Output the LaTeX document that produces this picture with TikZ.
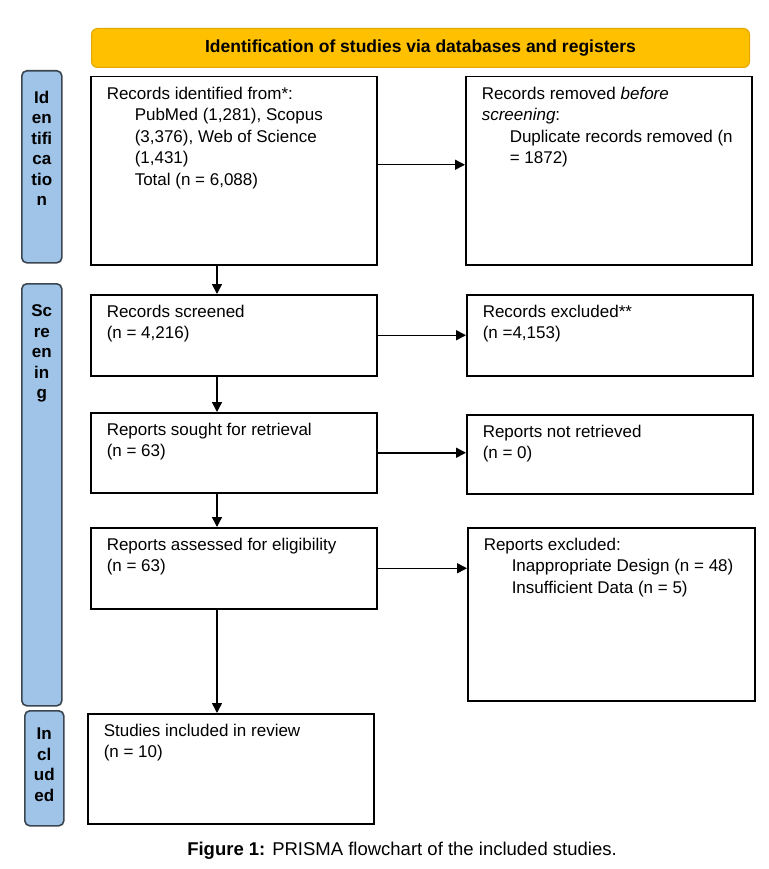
\documentclass[tikz,border=0pt]{standalone}
\usepackage{fontspec}
\setmainfont{Liberation Sans}
\usetikzlibrary{arrows.meta}

\definecolor{stageblue}{HTML}{9FC4E8}
\definecolor{stageedge}{HTML}{3B4650}
\definecolor{headfill}{HTML}{FFC000}
\definecolor{headedge}{HTML}{E3A700}

\newcommand{\boxbody}[3]{\parbox[c][#2][t]{#1}{\raggedright #3}}
\newcommand{\stagebody}[4]{\parbox[c][#2][t]{#1}{\centering\vspace*{#3}#4}}
\newcommand{\ind}{\hspace*{28pt}}

\begin{document}
\begin{tikzpicture}[x=1pt, y=-1pt,
  flowbox/.style={draw, line width=1.5pt, anchor=north west, inner xsep=16pt,
    inner ysep=10pt, font=\fontsize{17pt}{21.5pt}\selectfont},
  stagebox/.style={draw=stageedge, fill=stageblue, line width=1.6pt,
    rounded corners=5pt, anchor=north west, inner sep=0pt,
    font=\bfseries\fontsize{17pt}{20.5pt}\selectfont},
  flowarrow/.style={line width=1.5pt, -{Triangle[length=10pt,width=10pt]}}]
  \path[use as bounding box, fill=white] (0,0) rectangle (768,869);
  % ---- header bar ----
  \node[anchor=north west, draw=headedge, fill=headfill, line width=1pt,
    rounded corners=6pt, minimum width=658pt, minimum height=39pt, inner sep=0pt,
    font=\bfseries\fontsize{17.5pt}{21pt}\selectfont] (header) at (91,28)
    {Identification of studies via databases and registers};
  % ---- stage labels on the left ----
  \node[stagebox] (stageid) at (21,70)
    {\stagebody{40pt}{192pt}{20pt}{Id\\en\\tifi\\ca\\tio\\n}};
  \node[stagebox] (stagescr) at (21,283)
    {\stagebody{40pt}{422pt}{21pt}{Sc\\re\\en\\in\\g}};
  \node[stagebox] (stageinc) at (24,710)
    {\stagebody{39pt}{115pt}{17pt}{In\\cl\\ud\\ed}};
  % ---- main column ----
  \node[flowbox] (ident) at (90,76)
    {\boxbody{254pt}{168pt}{Records identified from*:\\
     \ind PubMed (1,281), Scopus\\
     \ind (3,376), Web of Science\\
     \ind (1,431)\\
     \ind Total (n = 6,088)}};
  \node[flowbox] (screened) at (90,294)
    {\boxbody{254pt}{61pt}{Records screened\\(n = 4,216)}};
  \node[flowbox] (sought) at (90,412)
    {\boxbody{254pt}{60pt}{Reports sought for retrieval\\(n = 63)}};
  \node[flowbox] (assessed) at (90,527)
    {\boxbody{254pt}{61pt}{Reports assessed for eligibility\\(n = 63)}};
  \node[flowbox] (included) at (87,713)
    {\boxbody{254pt}{90pt}{Studies included in review\\(n = 10)}};
  % ---- side column ----
  \node[flowbox] (removed) at (465,76)
    {\boxbody{254pt}{168pt}{Records removed \textit{before}\\
     \textit{screening}:\\
     \ind Duplicate records removed (n\\
     \ind = 1872)}};
  \node[flowbox] (excluded) at (466,294)
    {\boxbody{254pt}{61pt}{Records excluded**\\(n =4,153)}};
  \node[flowbox] (notretr) at (466,414)
    {\boxbody{254pt}{59pt}{Reports not retrieved\\(n = 0)}};
  \node[flowbox] (repexcl) at (467,527)
    {\boxbody{255pt}{153pt}{Reports excluded:\\
     \ind Inappropriate Design (n = 48)\\
     \ind Insufficient Data (n = 5)}};
  % ---- connectors ----
  \coordinate (spine) at (217,0);
  \draw[flowarrow] ([yshift=6pt]ident.east) -- ([yshift=6pt]removed.west);
  \draw[flowarrow] (screened.east) -- (excluded.west);
  \draw[flowarrow] (sought.east) -- (sought.east -| notretr.west);
  \draw[flowarrow] (assessed.east) -- (assessed.east -| repexcl.west);
  \draw[flowarrow] (ident.south -| spine) -- (screened.north -| spine);
  \draw[flowarrow] (screened.south -| spine) -- (sought.north -| spine);
  \draw[flowarrow] (sought.south -| spine) -- (assessed.north -| spine);
  \draw[flowarrow] (assessed.south -| spine) -- (included.north -| spine);
  % ---- caption ----
  \node[font=\fontsize{18.5pt}{22pt}\selectfont] (caption) at (402,851)
    {\textbf{Figure 1:} PRISMA flowchart of the included studies.};
\end{tikzpicture}
\end{document}
